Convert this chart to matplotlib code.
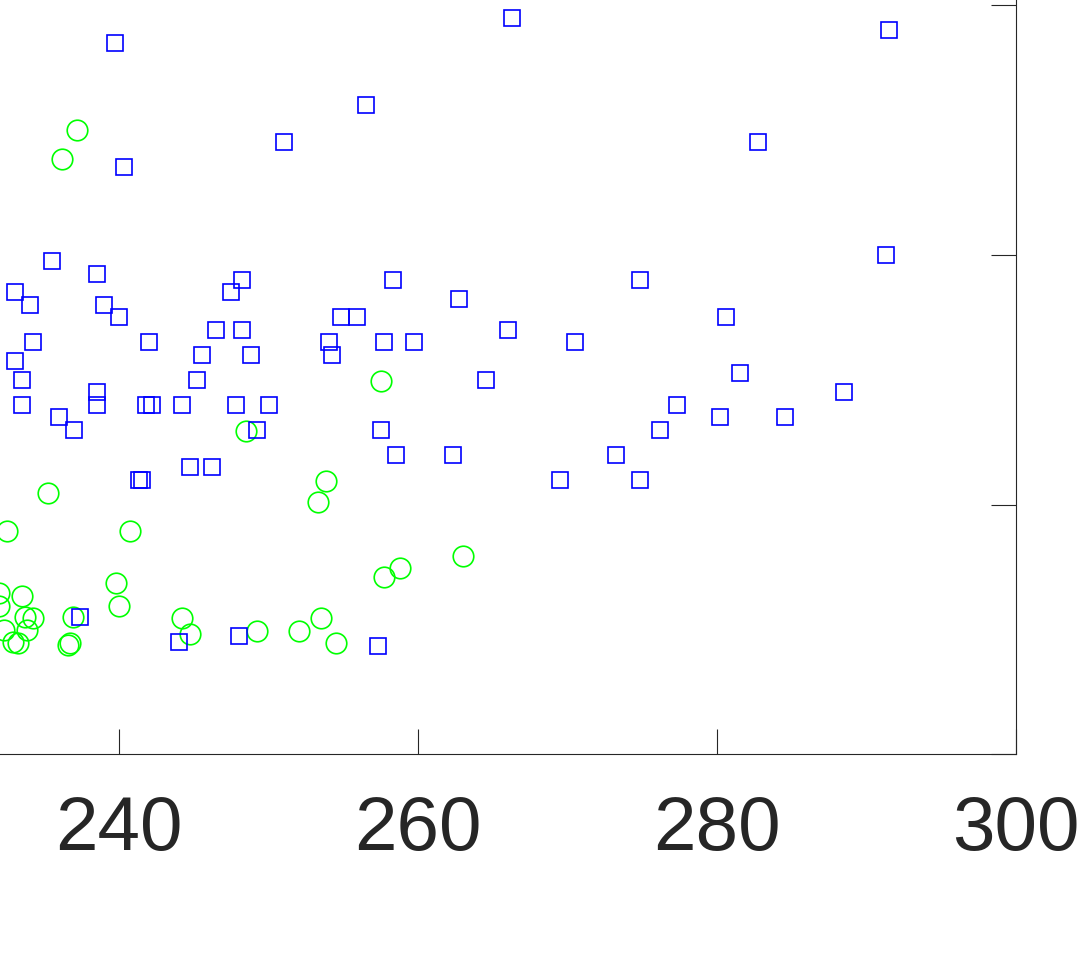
import matplotlib
matplotlib.use("Agg")
import matplotlib.pyplot as plt

# group 1 (blue squares)
sq_x = [239.7, 240.3, 251.0, 256.5, 266.3, 291.5, 282.7, 291.3, 235.5, 238.5,
        233.0, 234.0, 239.0, 240.0, 248.2, 247.5, 254.8, 255.9, 234.2, 233.0,
        242.0, 246.5, 248.2, 245.5, 248.8, 254.0, 254.25, 233.5, 245.2, 233.5,
        238.5, 238.5, 241.8, 242.2, 244.2, 247.8, 250.0, 236.0, 237.0, 249.2,
        244.75, 246.2, 241.3, 241.5, 258.3, 262.7, 274.8, 266.0, 257.7, 259.7,
        270.5, 264.5, 277.3, 276.2, 257.5, 258.5, 262.3, 273.2, 269.5, 274.8,
        280.6, 281.5, 288.5, 280.2, 284.5, 237.4, 244.0, 248.0, 257.3]
sq_y = [57, 47, 49, 52, 59, 58, 49, 40, 39.5, 38.5,
        37, 36, 36, 35, 38, 37, 35, 35, 33, 31.5,
        33, 34, 34, 32, 32, 33, 32, 30, 30, 28,
        29, 28, 28, 28, 28, 28, 28, 27, 26, 26,
        23, 23, 22, 22, 38, 36.5, 38, 34, 33, 33,
        33, 30, 28, 26, 26, 24, 24, 24, 22, 22,
        35, 30.5, 29, 27, 27, 11, 9, 9.5, 8.7]

# group 2 (green circles)
ci_x = [237.2, 236.2, 248.5, 235.25, 253.8, 253.3, 257.5, 232.5, 240.7, 239.8,
        240.0, 231.95, 233.5, 231.95, 233.7, 234.2, 232.3, 233.8, 232.9, 233.2,
        236.9, 236.6, 236.7, 244.2, 244.7, 249.2, 252.0, 253.5, 254.5, 257.7,
        258.8, 263.0]
ci_y = [50.0, 47.7, 25.9, 20.9, 21.9, 20.2, 29.9, 17.9, 17.9, 13.7,
        11.9, 12.9, 12.7, 11.9, 11.0, 10.9, 9.95, 9.95, 9.0, 8.9,
        11.0, 8.75, 8.9, 10.9, 9.65, 9.9, 9.9, 10.9, 8.9, 14.2,
        14.9, 15.9]

x_ticks = [220, 240, 260, 280, 300]
y_ticks = [0, 20, 40, 60, 80]

fig = plt.figure(figsize=(10.8, 9.63), dpi=100)
# the axes reach past the left and top edges of the figure (cropped view)
ax = fig.add_axes([-0.1664, 0.2167, 1.1074, 1.0374])

ax.plot(ci_x, ci_y, linestyle="none", marker="o", markersize=14.8,
        markerfacecolor="none", markeredgecolor=(0, 1, 0), markeredgewidth=1.2)
ax.plot(sq_x, sq_y, linestyle="none", marker="s", markersize=11.4,
        markerfacecolor="none", markeredgecolor=(0, 0, 1), markeredgewidth=1.2)

ax.set_xlim(220, 300)
ax.set_ylim(0, 80)
ax.set_xticks(x_ticks)
ax.set_yticks(y_ticks)

dark = "#262626"
for sp in ax.spines.values():
    sp.set_color(dark)
    sp.set_linewidth(0.8)
ax.tick_params(direction="in", length=18, width=0.8, color=dark,
               top=True, right=True, pad=29, labelcolor=dark)
for lab in ax.get_xticklabels() + ax.get_yticklabels():
    lab.set_fontfamily("Liberation Sans")
    lab.set_fontsize(55)

fig.savefig("out.png", dpi=100, facecolor="white")
